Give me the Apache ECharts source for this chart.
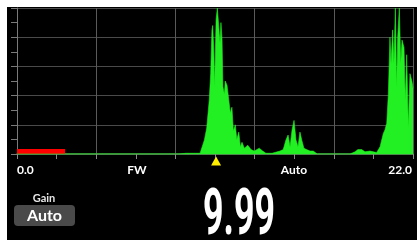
<!DOCTYPE html>
<html>
<head>
<meta charset="utf-8">
<script src="https://cdn.jsdelivr.net/npm/echarts@6/dist/echarts.min.js"></script>
<style>
html, body { margin: 0; padding: 0; background: #fff; }
#chart { width: 417px; height: 240px; }
</style>
</head>
<body>
<div id="chart"></div>
<script>
// spectrum readout (x in axis units 0..22, amplitude 0..100)
var freq = [0, 9.0, 9.39, 9.5, 9.61, 9.72, 9.83, 10.17, 10.28, 10.41, 10.54, 10.61, 10.68, 10.76, 10.83, 10.87,
	10.93, 10.98, 11.06, 11.13, 11.21, 11.28, 11.33, 11.39, 11.44, 11.52, 11.57, 11.67, 11.76, 11.85, 11.94,
	12.02, 12.13, 12.21, 12.32, 12.41, 12.5, 12.63, 12.82, 13.0, 13.18, 13.46, 13.65, 13.83, 14.17, 14.61,
	14.79, 14.94, 15.06, 15.17, 15.28, 15.39, 15.5, 15.61, 15.72, 15.83, 15.94, 16.09, 16.28, 16.46, 16.68,
	18.5, 18.78, 18.94, 19.15, 19.33, 19.61, 19.98, 20.17, 20.35, 20.44, 20.54, 20.63, 20.72, 20.78, 20.87,
	20.94, 21.02, 21.09, 21.15, 21.24, 21.32, 21.39, 21.5, 21.57, 21.65, 21.74, 21.83, 21.94, 22];
var amp = [0, 0, 0.5, 1.5, 0.5, 1.5, 0.5, 0.5, 1, 9.6, 17.8, 18.5, 37, 55, 85, 88,
	73, 46, 92, 100, 99, 76, 90, 79, 46, 41, 50, 47, 46, 28, 32,
	16, 20, 10, 15, 5, 8, 4, 6, 3, 2, 4, 2, 0.5, 0.5, 2,
	3, 9.6, 13, 5, 16.5, 23, 9.6, 5, 15, 9, 4, 3, 2, 2, 0,
	0, 1.5, 3, 3, 1.5, 2, 1, 5, 14, 16.5, 21, 41, 80, 62, 85,
	62, 100, 46, 80, 100, 62, 78, 73, 37, 68, 18, 55, 50, 45];

var levelEnd = 2.67;     // red level bar
var levelHeight = 3.4;
var markerFreq = 11.06;  // yellow cursor

var scaleLabels = ['0.0', 'FW', 'Auto', '22.0'];
var gainTitle = 'Gain';
var gainValue = 'Auto';
var readout = '9.99';

var myChart = echarts.init(document.getElementById('chart'));

var points = freq.map(function(f, i) {
	return [f, amp[i]];
});

var labelFont = 'bold 12px Lato';

var option = {
	backgroundColor: '#fff',
	animation: false,
	grid: {
		left: 17,
		top: 8,
		right: 4,
		bottom: 86
	},
	xAxis: {
		type: 'value',
		min: 0,
		max: 22,
		interval: 4.4,
		axisLine: {
			show: true,
			onZero: false,
			lineStyle: { color: '#4b9e4b', width: 1.5 }
		},
		axisTick: {
			show: true,
			length: 5,
			lineStyle: { color: '#8a8a8a' }
		},
		minorTick: {
			show: true,
			splitNumber: 2,
			length: 5,
			lineStyle: { color: '#8a8a8a' }
		},
		axisLabel: { show: false },
		splitLine: {
			show: true,
			lineStyle: { color: '#5a5a5a', width: 1 }
		}
	},
	yAxis: {
		type: 'value',
		min: 0,
		max: 100,
		interval: 20,
		axisLine: {
			show: true,
			lineStyle: { color: '#7a7a7a' }
		},
		axisTick: {
			show: true,
			length: 6,
			lineStyle: { color: '#7a7a7a' }
		},
		minorTick: {
			show: true,
			splitNumber: 2,
			length: 6,
			lineStyle: { color: '#7a7a7a' }
		},
		axisLabel: { show: false },
		splitLine: {
			show: true,
			lineStyle: { color: '#4a4a4a', width: 1 }
		}
	},
	graphic: [{
		type: 'rect',
		z: -10,
		silent: true,
		shape: { x: 7, y: 7, width: 410, height: 233 },
		style: { fill: '#000' }
	}, {
		type: 'text',
		x: 17, y: 170,
		style: { text: scaleLabels[0], font: labelFont, fill: '#fff', textAlign: 'left', textVerticalAlign: 'middle' }
	}, {
		type: 'text',
		x: 137, y: 170,
		style: { text: scaleLabels[1], font: labelFont, fill: '#fff', textAlign: 'center', textVerticalAlign: 'middle' }
	}, {
		type: 'text',
		x: 294, y: 170,
		style: { text: scaleLabels[2], font: labelFont, fill: '#fff', textAlign: 'center', textVerticalAlign: 'middle' }
	}, {
		type: 'text',
		x: 412, y: 170,
		style: { text: scaleLabels[3], font: labelFont, fill: '#fff', textAlign: 'right', textVerticalAlign: 'middle' }
	}, {
		type: 'text',
		x: 44, y: 198,
		style: { text: gainTitle, font: 'bold 11px Lato', fill: '#e6e6e6', textAlign: 'center', textVerticalAlign: 'middle' }
	}, {
		type: 'rect',
		shape: { x: 14, y: 205, width: 61, height: 21, r: 4 },
		style: { fill: '#4a4a4a' }
	}, {
		type: 'text',
		x: 44.5, y: 216,
		style: { text: gainValue, font: 'bold 16px Lato', fill: '#fff', textAlign: 'center', textVerticalAlign: 'middle' }
	}, {
		type: 'text',
		x: 203, y: 186,
		scaleX: 0.56,
		style: { text: readout, font: 'bold 64px Roboto', fill: '#fff', textAlign: 'left', textVerticalAlign: 'top' }
	}],
	series: [{
		type: 'line',
		data: points,
		symbol: 'none',
		lineStyle: { width: 0.6, color: '#22f022' },
		areaStyle: { color: '#22f022', opacity: 1 },
		markArea: {
			silent: true,
			itemStyle: { color: '#ff0000', opacity: 1 },
			data: [[{ coord: [0, 0] }, { coord: [levelEnd, levelHeight] }]]
		},
		markPoint: {
			silent: true,
			symbol: 'triangle',
			symbolSize: [10, 9],
			symbolOffset: [0, 7],
			itemStyle: { color: '#ffee00' },
			label: { show: false },
			data: [{ coord: [markerFreq, 0] }]
		}
	}]
};

myChart.setOption(option);
</script>
</body>
</html>
